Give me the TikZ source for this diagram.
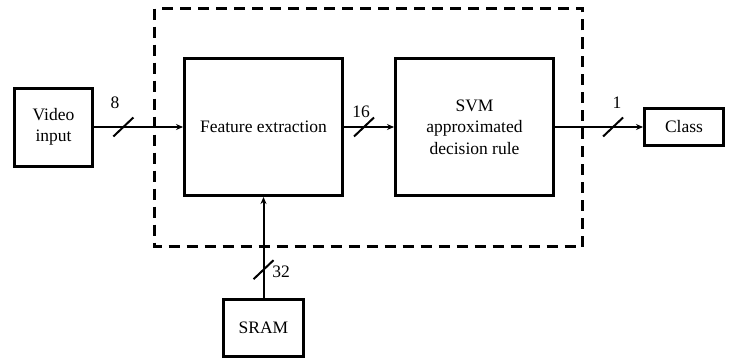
\documentclass[tikz,border=0pt]{standalone}
\usepackage{fontspec}
\setmainfont{Liberation Serif}
\usetikzlibrary{arrows.meta}
\tikzset{block/.style={draw, line width=3pt, inner sep=0pt, align=center, font=\fontsize{17.5}{21.5}\selectfont},
         wire/.style={line width=2pt, -{Stealth[length=7pt,width=6pt]}},
         slash/.style={line width=2pt},
         width/.style={font=\fontsize{17.5}{21.5}\selectfont, inner sep=0pt}}

\begin{document}
\begin{tikzpicture}[x=1pt,y=-1pt]
   \useasboundingbox (0,0) rectangle (729,364);
   \draw[line width=3pt, dash pattern=on 11pt off 7pt] (154.5,8.5) rectangle (582.5,246.5);

   \node[block, minimum width=78pt,  minimum height=78pt]  (video) at ( 53.5,127) {Video\\input};
   \node[block, minimum width=158pt, minimum height=137pt] (feat)  at (263.5,127) {Feature extraction};
   \node[block, minimum width=158pt, minimum height=137pt] (svm)   at (474.5,127) {SVM\\approximated\\decision rule};
   \node[block, minimum width=79pt,  minimum height=37pt]  (class) at (684.0,127) {Class};
   \node[block, minimum width=80pt,  minimum height=57pt]  (sram)  at (263.5,328) {SRAM};

   \draw[wire] (video) -- coordinate[pos=0.33] (s8)  (feat);
   \draw[wire] (feat)  -- coordinate[pos=0.40] (s16) (svm);
   \draw[wire] (svm)   -- coordinate[pos=0.66] (s1)  (class);
   \draw[wire] (sram)  -- coordinate[pos=0.28] (s32) (feat);

   \draw[slash] (s8)  +(-10,9.5) -- +(10,-9.5);
   \draw[slash] (s16) +(-10,9.5) -- +(10,-9.5);
   \draw[slash] (s1)  +(-10,9.5) -- +(10,-9.5);
   \draw[slash] (s32) +(-10,9.5) -- +(10,-9.5);

   \node[width] (n8)  at (115,103) {8};
   \node[width] (n16) at (361,112) {16};
   \node[width] (n1)  at (617,103) {1};
   \node[width] (n32) at (281,272) {32};
\end{tikzpicture}
\end{document}
